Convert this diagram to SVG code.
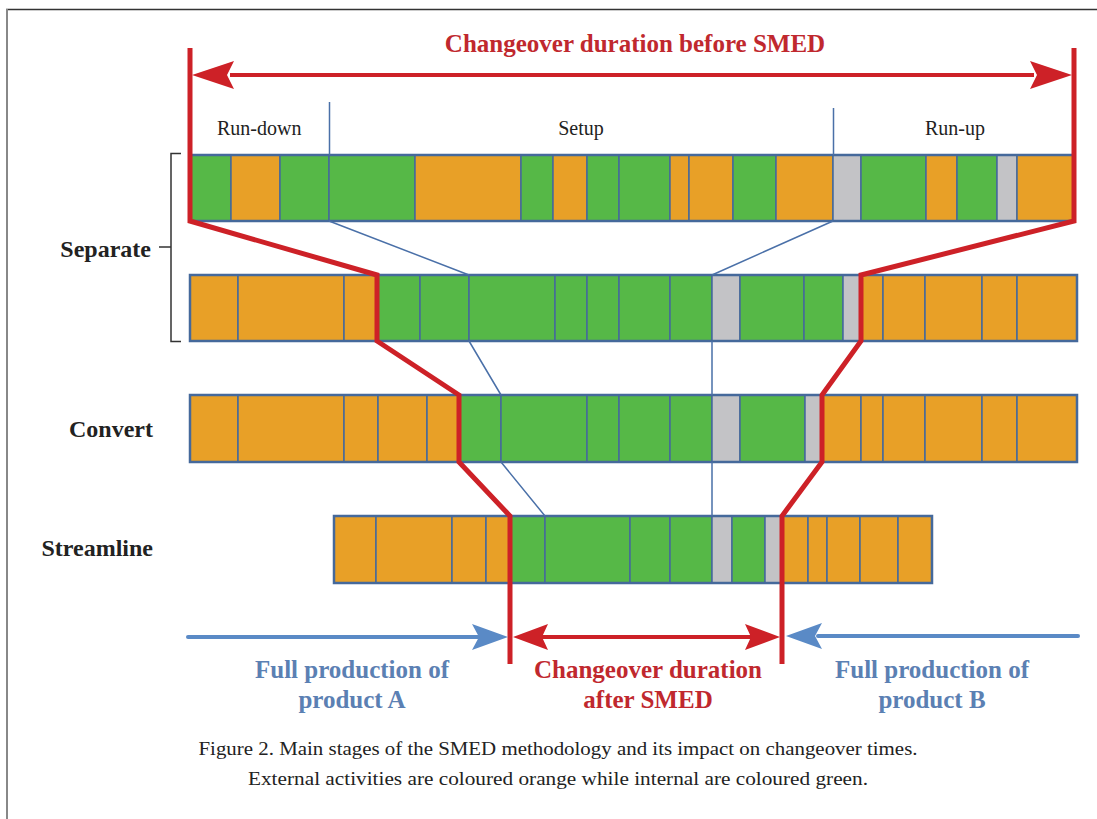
<svg xmlns="http://www.w3.org/2000/svg" width="1097" height="819" viewBox="0 0 1097 819">
<defs>
<style>
.g{fill:#56b847;stroke:#45699b;stroke-width:1.5}
.o{fill:#e8a027;stroke:#45699b;stroke-width:1.5}
.y{fill:#c3c3c6;stroke:#45699b;stroke-width:1.5}
.frame{fill:none;stroke:#45699b;stroke-width:2.5}
.red{fill:none;stroke:#cd2127;stroke-width:5;stroke-linejoin:miter}
.thin{fill:none;stroke:#4a70a8;stroke-width:1.5}
.lbl{font-family:"Liberation Serif","Times New Roman",serif;font-size:20px;fill:#222}
.stage{font-family:"Liberation Serif","Times New Roman",serif;font-size:24px;font-weight:bold;fill:#222;text-anchor:end}
.rt{font-family:"Liberation Serif","Times New Roman",serif;font-size:25px;font-weight:bold;fill:#c0282e;text-anchor:middle}
.bt{font-family:"Liberation Serif","Times New Roman",serif;font-size:25px;font-weight:bold;fill:#5b80b3;text-anchor:middle}
.cap{font-family:"Liberation Serif","Times New Roman",serif;font-size:19px;fill:#222;text-anchor:middle}
</style>
</defs>
<rect width="1097" height="819" fill="#fff"/>
<g id="border" fill="none">
<path d="M6 9.5 H1097" stroke="#333" stroke-width="1.5"/>
<path d="M7 9 V819" stroke="#888" stroke-width="2"/>
</g>

<g id="title">
<text class="rt" x="635" y="52">Changeover duration before SMED</text>
</g>

<g id="phase-labels">
<text class="lbl" x="217" y="135">Run-down</text>
<text class="lbl" x="581" y="135" text-anchor="middle">Setup</text>
<text class="lbl" x="955" y="135" text-anchor="middle">Run-up</text>
</g>

<g id="stage-labels">
<text class="stage" x="151" y="257">Separate</text>
<text class="stage" x="153" y="437">Convert</text>
<text class="stage" x="153" y="556">Streamline</text>
<path d="M181 153.5 H171 V341.5 H181 M159 247 H171" fill="none" stroke="#333" stroke-width="1.5"/>
</g>

<g id="row1">
<rect class="g" x="190" y="155" width="41" height="66"/>
<rect class="o" x="231" y="155" width="49" height="66"/>
<rect class="g" x="280" y="155" width="49" height="66"/>
<rect class="g" x="329" y="155" width="86" height="66"/>
<rect class="o" x="415" y="155" width="106" height="66"/>
<rect class="g" x="521" y="155" width="32" height="66"/>
<rect class="o" x="553" y="155" width="34" height="66"/>
<rect class="g" x="587" y="155" width="32" height="66"/>
<rect class="g" x="619" y="155" width="51" height="66"/>
<rect class="o" x="670" y="155" width="19" height="66"/>
<rect class="o" x="689" y="155" width="44" height="66"/>
<rect class="g" x="733" y="155" width="43" height="66"/>
<rect class="o" x="776" y="155" width="57" height="66"/>
<rect class="y" x="833" y="155" width="28" height="66"/>
<rect class="g" x="861" y="155" width="65" height="66"/>
<rect class="o" x="926" y="155" width="31" height="66"/>
<rect class="g" x="957" y="155" width="40" height="66"/>
<rect class="y" x="997" y="155" width="20" height="66"/>
<rect class="o" x="1017" y="155" width="57" height="66"/>
<rect class="frame" x="190" y="155" width="884" height="66"/>
</g>

<g id="row2">
<rect class="o" x="190" y="275" width="48" height="66"/>
<rect class="o" x="238" y="275" width="106" height="66"/>
<rect class="o" x="344" y="275" width="33" height="66"/>
<rect class="g" x="377" y="275" width="43" height="66"/>
<rect class="g" x="420" y="275" width="49" height="66"/>
<rect class="g" x="469" y="275" width="86" height="66"/>
<rect class="g" x="555" y="275" width="32" height="66"/>
<rect class="g" x="587" y="275" width="32" height="66"/>
<rect class="g" x="619" y="275" width="51" height="66"/>
<rect class="g" x="670" y="275" width="42" height="66"/>
<rect class="y" x="712" y="275" width="28" height="66"/>
<rect class="g" x="740" y="275" width="64" height="66"/>
<rect class="g" x="804" y="275" width="39" height="66"/>
<rect class="y" x="843" y="275" width="18" height="66"/>
<rect class="o" x="861" y="275" width="22" height="66"/>
<rect class="o" x="883" y="275" width="42" height="66"/>
<rect class="o" x="925" y="275" width="57" height="66"/>
<rect class="o" x="982" y="275" width="35" height="66"/>
<rect class="o" x="1017" y="275" width="60" height="66"/>
<rect class="frame" x="190" y="275" width="887" height="66"/>
</g>

<g id="row3">
<rect class="o" x="190" y="395" width="48" height="67"/>
<rect class="o" x="238" y="395" width="106" height="67"/>
<rect class="o" x="344" y="395" width="34" height="67"/>
<rect class="o" x="378" y="395" width="49" height="67"/>
<rect class="o" x="427" y="395" width="32" height="67"/>
<rect class="g" x="459" y="395" width="42" height="67"/>
<rect class="g" x="501" y="395" width="86" height="67"/>
<rect class="g" x="587" y="395" width="32" height="67"/>
<rect class="g" x="619" y="395" width="51" height="67"/>
<rect class="g" x="670" y="395" width="42" height="67"/>
<rect class="y" x="712" y="395" width="28" height="67"/>
<rect class="g" x="740" y="395" width="65" height="67"/>
<rect class="y" x="805" y="395" width="17" height="67"/>
<rect class="o" x="822" y="395" width="39" height="67"/>
<rect class="o" x="861" y="395" width="22" height="67"/>
<rect class="o" x="883" y="395" width="42" height="67"/>
<rect class="o" x="925" y="395" width="57" height="67"/>
<rect class="o" x="982" y="395" width="35" height="67"/>
<rect class="o" x="1017" y="395" width="60" height="67"/>
<rect class="frame" x="190" y="395" width="887" height="67"/>
</g>

<g id="row4">
<rect class="o" x="334" y="516" width="42" height="67"/>
<rect class="o" x="376" y="516" width="76" height="67"/>
<rect class="o" x="452" y="516" width="34" height="67"/>
<rect class="o" x="486" y="516" width="24" height="67"/>
<rect class="g" x="510" y="516" width="35" height="67"/>
<rect class="g" x="545" y="516" width="85" height="67"/>
<rect class="g" x="630" y="516" width="40" height="67"/>
<rect class="g" x="670" y="516" width="42" height="67"/>
<rect class="y" x="712" y="516" width="20" height="67"/>
<rect class="g" x="732" y="516" width="33" height="67"/>
<rect class="y" x="765" y="516" width="17" height="67"/>
<rect class="o" x="782" y="516" width="26" height="67"/>
<rect class="o" x="808" y="516" width="19" height="67"/>
<rect class="o" x="827" y="516" width="33" height="67"/>
<rect class="o" x="860" y="516" width="38" height="67"/>
<rect class="o" x="898" y="516" width="34" height="67"/>
<rect class="frame" x="334" y="516" width="598" height="67"/>
</g>

<g id="connectors">
<path class="thin" d="M329.5 102 V155 M329 221 L469 275 M469 341 L501 395 M501 462 L545 516"/>
<path class="thin" d="M833.5 108 V155 M833 221 L712 275 M712 341 V395 M712 462 V516"/>
<path class="red" d="M190 48 V221 L377 275 V341 L459 395 V462 L510 516 V664"/>
<path class="red" d="M1074 48 V221 L861 275 V341 L822 395 V462 L782 516 V664"/>
<path d="M230 75 H1034" stroke="#cd2127" stroke-width="4"/>
<path d="M192 75 L234 61 L227 75 L234 89 Z M1072 75 L1030 61 L1037 75 L1030 89 Z" fill="#cd2127"/>
<path d="M188 637 H478" stroke="#5a8ac6" stroke-width="4" stroke-linecap="round"/>
<path d="M508 637 L472 624 L479 637 L472 650 Z" fill="#5a8ac6"/>
<path d="M540 637 H752" stroke="#cd2127" stroke-width="4"/>
<path d="M513 637 L548 624 L542 637 L548 650 Z M780 637 L745 624 L751 637 L745 650 Z" fill="#cd2127"/>
<path d="M818 636 H1078" stroke="#5a8ac6" stroke-width="4" stroke-linecap="round"/>
<path d="M786 636 L822 623 L815 636 L822 649 Z" fill="#5a8ac6"/>
</g>

<g id="bottom-labels">
<text class="bt" x="352" y="678">Full production of</text>
<text class="bt" x="352" y="708">product A</text>
<text class="rt" x="648" y="678">Changeover duration</text>
<text class="rt" x="648" y="708">after SMED</text>
<text class="bt" x="932" y="678">Full production of</text>
<text class="bt" x="932" y="708">product B</text>
</g>

<g id="caption">
<text class="cap" x="558" y="755" textLength="719" lengthAdjust="spacingAndGlyphs">Figure 2. Main stages of the SMED methodology and its impact on changeover times.</text>
<text class="cap" x="558" y="785" textLength="620" lengthAdjust="spacingAndGlyphs">External activities are coloured orange while internal are coloured green.</text>
</g>
</svg>
